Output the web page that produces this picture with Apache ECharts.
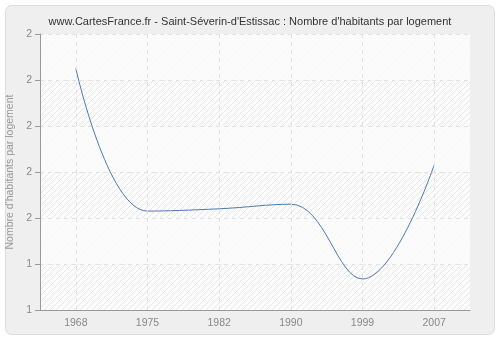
<!DOCTYPE html>
<html><head><meta charset="utf-8">
<script src="https://cdn.jsdelivr.net/npm/echarts@6/dist/echarts.min.js"></script>
<style>html,body{margin:0;padding:0;background:#fff}#c{width:500px;height:340px}</style>
</head><body><div id="c"></div>
<script>
var years = ['1968','1975','1982','1990','1999','2007'];
var values = [2.25, 1.63, 1.64, 1.66, 1.335, 1.83];
var yTickLabels = ['1','1','2','2','2','2','2'];
var titleText = "www.CartesFrance.fr - Saint-Séverin-d'Estissac : Nombre d'habitants par logement";
var yName = "Nombre d'habitants par logement";

var pc = document.createElement('canvas');
pc.width = 6; pc.height = 6;
var g = pc.getContext('2d');
g.fillStyle = '#fcfcfc'; g.fillRect(0,0,6,6);
g.strokeStyle = '#e6e6e6'; g.lineWidth = 1;
g.beginPath(); g.moveTo(0,6); g.lineTo(6,0); g.stroke();
g.beginPath(); g.moveTo(-1,1); g.lineTo(1,-1); g.stroke();
g.beginPath(); g.moveTo(5,7); g.lineTo(7,5); g.stroke();

var F = 'Liberation Sans';
var chart = echarts.init(document.getElementById('c'), null, {renderer:'canvas'});
chart.setOption({
  animation:false,
  backgroundColor:'#ffffff',
  textStyle:{fontFamily:F},
  graphic:[{type:'rect', z:-10, shape:{x:5.5,y:5.5,width:489,height:329,r:6},
    style:{fill:'#efefef', stroke:'#dddddd', lineWidth:1}}],
  title:{text:titleText, left:'center', top:11,
    textStyle:{fontSize:11, fontWeight:'normal', color:'#333', fontFamily:F}},
  grid:{left:40, right:30, top:34, bottom:30, outerBoundsMode:'none', containLabel:false,
    show:true, backgroundColor:{image:pc, repeat:'repeat'}, borderWidth:0},
  xAxis:{type:'category', data:years, boundaryGap:true,
    axisLine:{lineStyle:{color:'#999'}},
    axisTick:{alignWithLabel:true, length:5, lineStyle:{color:'#999'}},
    axisLabel:{color:'#888', fontSize:10.5, margin:8},
    splitLine:{show:false}},
  yAxis:{type:'value', min:1.2, max:2.4, interval:0.2,
    name:yName, nameLocation:'middle', nameGap:24, nameRotate:90,
    nameTextStyle:{color:'#999', fontSize:10.5},
    axisLine:{show:true, lineStyle:{color:'#999'}},
    axisTick:{show:true, length:5, lineStyle:{color:'#999'}},
    axisLabel:{color:'#888', fontSize:10.5, margin:8,
      formatter:function(v,i){return yTickLabels[i];}},
    splitLine:{show:true, lineStyle:{color:'#e2e2e2', type:[4,4]}},
    splitArea:{show:true, areaStyle:{color:['rgba(0,0,0,0)','rgba(250,250,250,0.85)']}}},
  series:[{type:'line', data:values, smooth:0.4, symbol:'none',
    lineStyle:{color:'#4f79b0', width:1},
    markLine:{silent:true, symbol:'none', label:{show:false},
      lineStyle:{color:'#e2e2e2', type:[4,4], width:1},
      data:years.map(function(y){return {xAxis:y};})},
    z:3}]
});
</script></body></html>
